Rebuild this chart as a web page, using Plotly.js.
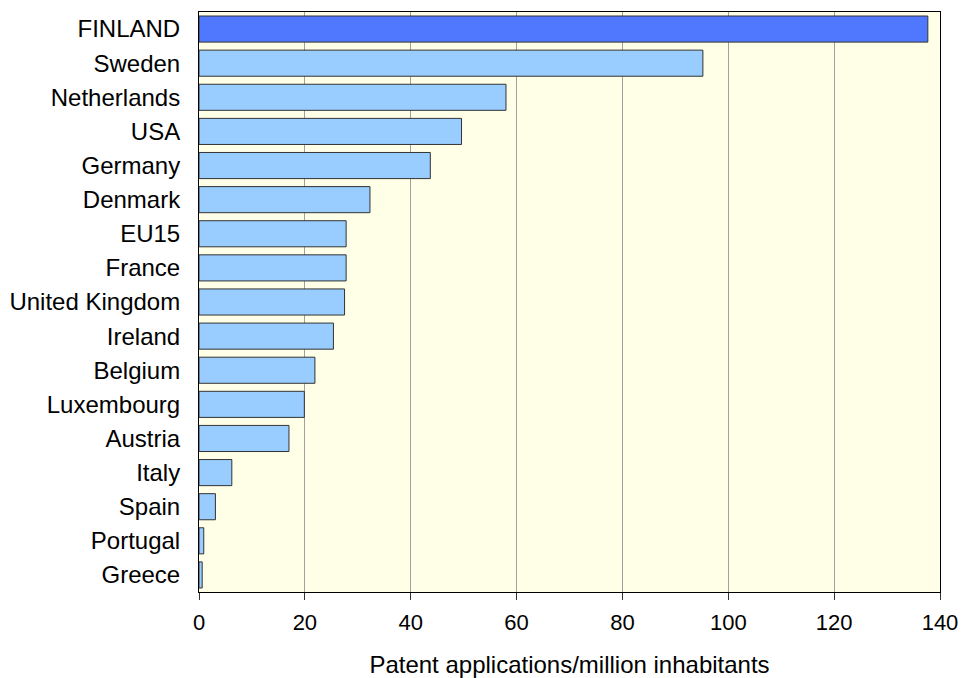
<!DOCTYPE html>
<html>
<head>
<meta charset="utf-8">
<script src="https://cdn.plot.ly/plotly-3.0.1.min.js"></script>
<style>html,body{margin:0;padding:0;background:#fff;}#chart{width:962px;height:678px;}</style>
</head>
<body>
<div id="chart"></div>
<script>
const countries = ["FINLAND","Sweden","Netherlands","USA","Germany","Denmark","EU15","France","United Kingdom","Ireland","Belgium","Luxembourg","Austria","Italy","Spain","Portugal","Greece"];
const patents = [137.7,95.2,58.0,49.6,43.7,32.3,27.8,27.8,27.5,25.4,21.9,19.9,17.0,6.2,3.1,0.9,0.6];
const xTicks = [0,20,40,60,80,100,120,140];
const highlight = "FINLAND";

const colors = countries.map(c => c === highlight ? "#5078FF" : "#99CCFF");

const trace = {
  type: "bar",
  orientation: "h",
  y: countries,
  x: patents,
  marker: {color: colors, line: {color: "#333333", width: 1}},
  hoverinfo: "x+y"
};

const layout = {
  width: 962, height: 678,
  margin: {l: 199, r: 22, t: 12, b: 86},
  paper_bgcolor: "#ffffff",
  plot_bgcolor: "#FFFFE8",
  bargap: 0.235,
  showlegend: false,
  font: {family: "Liberation Sans, Arial, sans-serif", color: "#000"},
  xaxis: {
    range: [0, 140],
    tickvals: xTicks,
    ticktext: xTicks.map(String),
    showgrid: true, gridcolor: "#A0A0A0", gridwidth: 1,
    showline: true, linecolor: "#000", linewidth: 1, mirror: true,
    ticks: "outside", ticklen: 7, tickcolor: "#333",
    tickfont: {size: 22},
    ticklabelstandoff: 4,
    zeroline: false,
    title: {text: "Patent applications/million inhabitants", font: {size: 24}, standoff: 21}
  },
  yaxis: {
    autorange: "reversed",
    categoryorder: "array", categoryarray: countries,
    showline: true, linecolor: "#000", linewidth: 1, mirror: true,
    ticks: "", showgrid: false,
    tickfont: {size: 24},
    ticklabelstandoff: 13
  }
};

Plotly.newPlot("chart", [trace], layout, {displayModeBar: false, staticPlot: true});
</script>
</body>
</html>
